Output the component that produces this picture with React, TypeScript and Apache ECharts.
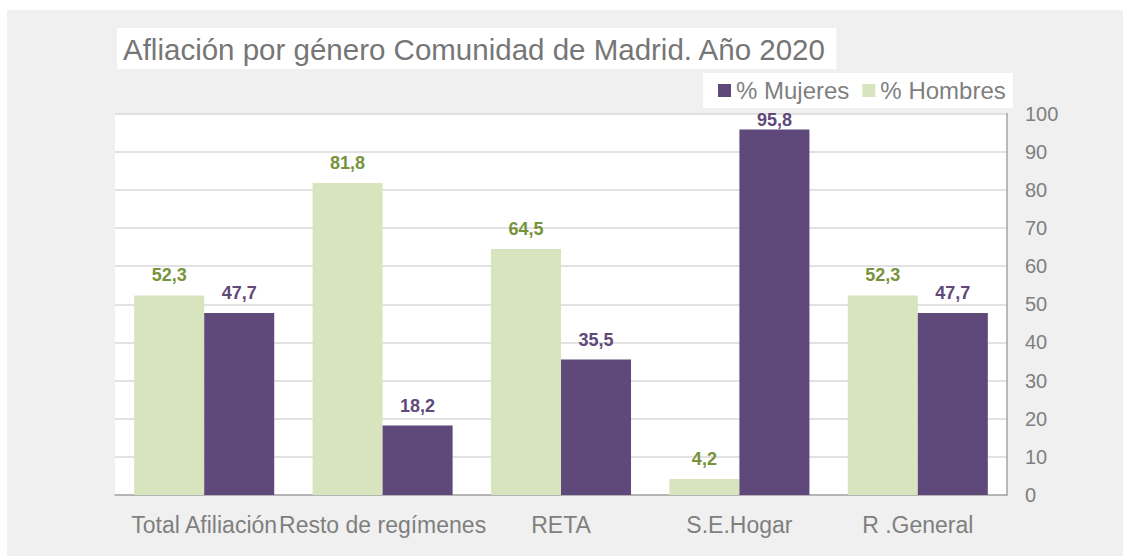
import React, { useEffect, useRef } from "react";
import * as echarts from "echarts";

const categories = ["Total Afiliación", "Resto de regímenes", "RETA", "S.E.Hogar", "R .General"];
const hombres = [52.3, 81.8, 64.5, 4.2, 52.3];
const mujeres = [47.7, 18.2, 35.5, 95.8, 47.7];
const titleText = "Afliación por género Comunidad de Madrid. Año 2020";
const seriesNames = ["% Mujeres", "% Hombres"];

const FONT = "'Liberation Sans', Arial, sans-serif";
const fmt = (p: any) => Number(p.value).toFixed(1).replace(".", ",");

export default function App() {
  const ref = useRef<HTMLDivElement>(null);
  useEffect(() => {
    if (!ref.current) return;
    const chart = echarts.init(ref.current, undefined, { renderer: "svg" });
    const toData = (arr: number[]) =>
      arr.map((v) => (v > 93 ? { value: v, label: { distance: 1 } } : v));
    chart.setOption({
      animation: false,
      backgroundColor: "transparent",
      textStyle: { fontFamily: FONT },
      title: {
        text: titleText,
        left: 110,
        top: 18,
        backgroundColor: "#ffffff",
        padding: [6, 10, 5, 6],
        textStyle: { fontFamily: FONT, fontSize: 29.5, fontWeight: "normal", color: "#767676", lineHeight: 30 },
      },
      legend: {
        data: seriesNames,
        left: 696,
        top: 63,
        backgroundColor: "#ffffff",
        padding: [5, 7, 5, 15],
        itemWidth: 13,
        itemHeight: 13,
        itemGap: 13,
        icon: "rect",
        textStyle: { fontFamily: FONT, fontSize: 24, color: "#7f7f7f", lineHeight: 25 },
      },
      grid: {
        left: 108,
        right: 116,
        top: 103.5,
        bottom: 61,
        show: true,
        backgroundColor: "#ffffff",
        borderWidth: 0,
      },
      xAxis: {
        type: "category",
        data: categories,
        axisLine: { show: true, lineStyle: { color: "#a6a6a6", width: 1.5 } },
        axisTick: { show: false },
        axisLabel: { interval: 0, margin: 18, fontSize: 23, color: "#7f7f7f", fontFamily: FONT },
      },
      yAxis: {
        type: "value",
        position: "right",
        min: 0,
        max: 100,
        interval: 10,
        axisLine: { show: true, lineStyle: { color: "#a6a6a6", width: 1.5 } },
        axisTick: { show: false },
        splitLine: { show: true, lineStyle: { color: "#d9d9d9", width: 1.5 } },
        axisLabel: { margin: 18, fontSize: 20, color: "#7f7f7f", fontFamily: FONT },
      },
      series: [
        {
          name: "% Hombres",
          type: "bar",
          data: toData(hombres),
          barGap: "0%",
          barCategoryGap: "21.5%",
          itemStyle: { color: "#d7e4bd" },
          label: {
            show: true,
            position: "top",
            distance: 11,
            formatter: fmt,
            fontSize: 18,
            fontWeight: "bold",
            color: "#77933c",
            fontFamily: FONT,
          },
        },
        {
          name: "% Mujeres",
          type: "bar",
          data: toData(mujeres),
          barGap: "0%",
          barCategoryGap: "21.5%",
          itemStyle: { color: "#5f497a" },
          label: {
            show: true,
            position: "top",
            distance: 11,
            formatter: fmt,
            fontSize: 18,
            fontWeight: "bold",
            color: "#5f497a",
            fontFamily: FONT,
          },
        },
      ],
    });
    return () => chart.dispose();
  }, []);
  return (
    <div
      ref={ref}
      style={{ position: "absolute", left: 7, top: 10, width: 1116, height: 546, background: "#f0f0f0" }}
    />
  );
}
